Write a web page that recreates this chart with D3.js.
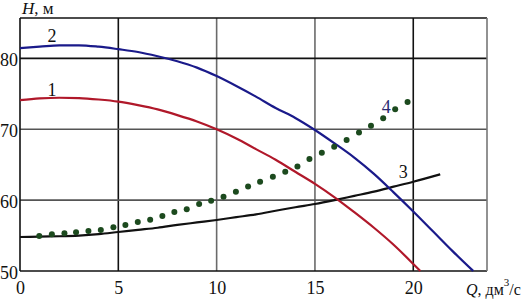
<!DOCTYPE html>
<html>
<head>
<meta charset="utf-8">
<script src="https://cdn.jsdelivr.net/npm/d3@7"></script>
<style>
    html, body { margin: 0; padding: 0; background: #fff; }
    svg { display: block; }
    svg text { font-family: "Liberation Serif", "Times New Roman", serif; }
</style>
</head>
<body>
<div id="chart"></div>
<script>
// curve 1 (red)
var q1 = [0, 1, 2, 3, 4, 5, 6, 7, 8, 9, 10, 11, 12, 13, 14, 15, 16, 17, 18, 19, 20, 20.36];
var h1 = [74.1, 74.35, 74.45, 74.4, 74.2, 73.9, 73.4, 72.8, 72.0, 71.1, 70.0, 68.7, 67.2, 65.7, 64.0, 62.3, 60.4, 58.3, 56.1, 53.7, 51.0, 50.0];

// curve 2 (blue)
var q2 = [0, 1, 2, 3, 4, 5, 6, 7, 8, 9, 10, 11, 12, 13, 14, 15, 16, 17, 18, 19, 20, 21, 22, 23.05];
var h2 = [81.45, 81.65, 81.85, 81.85, 81.65, 81.3, 80.9, 80.3, 79.6, 78.7, 77.5, 76.1, 74.6, 73.0, 71.6, 69.9, 68.0, 66.0, 63.7, 61.1, 58.4, 55.6, 52.8, 50.0];

// curve 3 (black)
var q3 = [0, 1, 2, 3, 4, 5, 6, 7, 8, 9, 10, 11, 12, 13, 14, 15, 16, 17, 18, 19, 20, 21.37];
var h3 = [54.8, 54.85, 54.9, 55.0, 55.2, 55.5, 55.8, 56.1, 56.5, 56.85, 57.2, 57.6, 58.0, 58.5, 59.0, 59.45, 60.0, 60.6, 61.2, 61.9, 62.6, 63.65];

// curve 4 (dots)
var q4 = [0.98, 1.62, 2.26, 2.85, 3.48, 4.11, 4.75, 5.36, 5.99, 6.62, 7.24, 7.85, 8.48, 9.11, 9.72, 10.35,
          10.98, 11.6, 12.21, 12.86, 13.49, 14.11, 14.72, 15.35, 15.98, 16.61, 17.24, 17.85, 18.47, 19.08, 19.71];
var h4 = [54.94, 55.18, 55.32, 55.46, 55.65, 55.79, 56.17, 56.49, 56.92, 57.24, 57.77, 58.33, 58.71, 59.46, 59.93, 60.49,
          61.2, 61.91, 62.61, 63.31, 64.02, 64.73, 65.81, 66.7, 67.55, 68.5, 69.53, 70.51, 71.56, 72.83, 73.86];

// ticks
var xTicks = [0, 5, 10, 15, 20];
var yTicks = [50, 60, 70, 80];

// curve number labels [text, Q, H]
var curveLabels = [["1", 1.63, 75.55], ["2", 1.63, 83.2], ["3", 19.49, 63.98], ["4", 18.63, 73.15]];

(function() {"use strict";

    var W = 523, H = 299,
        margin = {top: 18, right: 36, bottom: 28, left: 20},
        serif = "\"Liberation Serif\", \"Times New Roman\", serif";

    var svg = d3.select("#chart").append("svg")
        .attr("width", W)
        .attr("height", H);

    // Scales
    var x = d3.scaleLinear().domain([0, 23.75]).range([margin.left, W - margin.right]),
        y = d3.scaleLinear().domain([50, 85.7]).range([H - margin.bottom, margin.top]);

    var x0 = x.range()[0], x1 = x.range()[1],
        y0 = y.range()[0], y1 = y.range()[1];

    // grid: some lines come out black, some grey in the original
    var darkX = {5: true, 20: true},
        darkY = {80: true};

    svg.append("g").selectAll("line").data(xTicks.filter(function(d){ return d > 0; })).enter()
        .append("line")
        .attr("x1", function(d){ return x(d); }).attr("x2", function(d){ return x(d); })
        .attr("y1", y0).attr("y2", y1)
        .attr("stroke", function(d){ return darkX[d] ? "#111" : "#6a6a6a"; })
        .attr("stroke-width", 1.6);

    svg.append("g").selectAll("line").data(yTicks.filter(function(d){ return d > 50; })).enter()
        .append("line")
        .attr("x1", x0).attr("x2", x1)
        .attr("y1", function(d){ return y(d); }).attr("y2", function(d){ return y(d); })
        .attr("stroke", function(d){ return darkY[d] ? "#111" : "#555"; })
        .attr("stroke-width", 1.6);

    // frame
    svg.append("line").attr("x1", x0).attr("x2", x1).attr("y1", y1).attr("y2", y1)
        .attr("stroke", "#111").attr("stroke-width", 1.6);
    svg.append("line").attr("x1", x0).attr("x2", x1).attr("y1", y0).attr("y2", y0)
        .attr("stroke", "#111").attr("stroke-width", 1.6);
    svg.append("line").attr("x1", x0).attr("x2", x0).attr("y1", y0).attr("y2", y1)
        .attr("stroke", "#111").attr("stroke-width", 1.6);
    svg.append("line").attr("x1", x1).attr("x2", x1).attr("y1", y0).attr("y2", y1)
        .attr("stroke", "#777").attr("stroke-width", 1.6);

    // Axes (labels only)
    var xAxis = svg.append("g")
        .attr("transform", "translate(0," + y0 + ")")
        .call(d3.axisBottom(x).tickValues(xTicks).tickSize(0).tickPadding(10).tickFormat(d3.format("d")));
    var yAxis = svg.append("g")
        .attr("transform", "translate(" + (x0 - 2) + ",0)")
        .call(d3.axisLeft(y).tickValues(yTicks).tickSize(0).tickPadding(0).tickFormat(d3.format("d")));

    [xAxis, yAxis].forEach(function(a) {
        a.attr("font-family", null).attr("font-size", null);
        a.select(".domain").remove();
        a.selectAll("text")
            .style("font-family", serif)
            .style("font-size", "18px")
            .attr("fill", "#111");
    });
    yAxis.selectAll("text").attr("dy", "0.4em");

    // curves
    var line = d3.line()
        .x(function(d){ return x(d[0]); })
        .y(function(d){ return y(d[1]); })
        .curve(d3.curveMonotoneX);

    var curves = [
        {q: q3, h: h3, color: "#111111"},
        {q: q1, h: h1, color: "#b0182a"},
        {q: q2, h: h2, color: "#1a1a8a"}
    ];

    curves.forEach(function(c) {
        svg.append("path")
            .datum(d3.zip(c.q, c.h))
            .attr("d", line)
            .attr("fill", "none")
            .attr("stroke", c.color)
            .attr("stroke-width", 2.2);
    });

    // dots
    svg.append("g").selectAll("circle").data(d3.zip(q4, h4)).enter()
        .append("circle")
        .attr("cx", function(d){ return x(d[0]); })
        .attr("cy", function(d){ return y(d[1]); })
        .attr("r", 3)
        .attr("fill", "#1c4a1e");

    // curve numbers
    svg.append("g").selectAll("text").data(curveLabels).enter()
        .append("text")
        .attr("x", function(d){ return x(d[1]); })
        .attr("y", function(d){ return y(d[2]); })
        .attr("dy", "0.35em")
        .attr("text-anchor", "middle")
        .style("font-size", "18px")
        .attr("fill", function(d){ return d[0] === "4" ? "#2a2a70" : "#111"; })
        .text(function(d){ return d[0]; });

    // axis titles
    var hTitle = svg.append("text")
        .attr("x", 22).attr("y", 14)
        .style("font-size", "17px").attr("fill", "#111");
    hTitle.append("tspan").attr("font-style", "italic").text("H");
    hTitle.append("tspan").text(", м");

    var qTitle = svg.append("text")
        .attr("x", 466).attr("y", 295)
        .style("font-size", "16px").attr("fill", "#111");
    qTitle.append("tspan").attr("font-style", "italic").text("Q");
    qTitle.append("tspan").text(", дм");
    qTitle.append("tspan").style("font-size", "11px").attr("dy", -9).text("3");
    qTitle.append("tspan").attr("dy", 9).text("/с");

})();
</script>
</body>
</html>
